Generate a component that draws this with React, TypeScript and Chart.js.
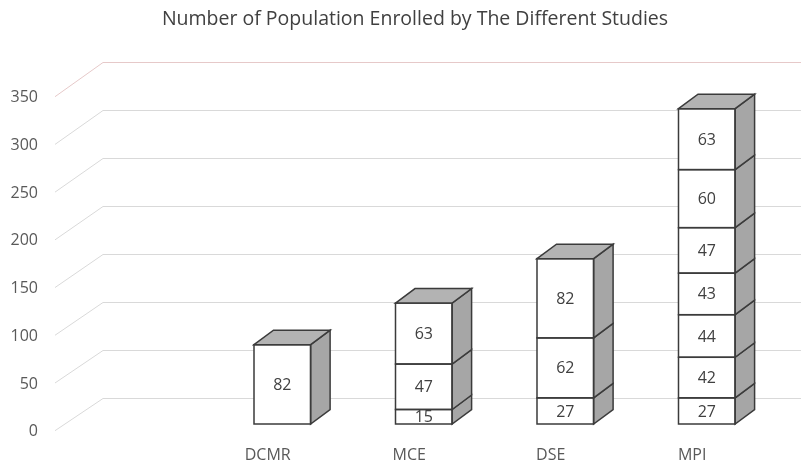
import { useEffect, useRef } from "react";
import { Chart, registerables } from "chart.js";

Chart.register(...registerables);

const categories = ["DCMR", "MCE", "DSE", "MPI"];

// Enrolled population per study, one array per stacked block (bottom to top)
const block1 = [82, 15, 27, 27];
const block2 = [null, 47, 62, 42];
const block3 = [null, 63, 82, 44];
const block4 = [null, null, null, 43];
const block5 = [null, null, null, 47];
const block6 = [null, null, null, 60];
const block7 = [null, null, null, 63];
const blocks = [block1, block2, block3, block4, block5, block6, block7];

const yMin = 0;
const yMax = 350;
const yStep = 50;

const titleText = "Number of Population Enrolled by The Different Studies";

// projection of the 3D box: depth of each column and of the floor/back wall
const BOX_DX = 19.5;
const BOX_DY = 14.5;
const WALL_DX = 48;

const FONT = "'Open Sans', 'Noto Sans', sans-serif";
const EDGE = "#3b3b3b";
const SIDE = "#a6a6a6";
const TOP = "#b3b3b3";
const GRID = "#d9d9d9";
const GRID_TOP = "#e6c9c9";

const box3d = {
  id: "box3d",
  beforeDatasetsDraw(chart: any) {
    const { ctx, chartArea, scales } = chart;
    const front = scales.y;
    const wall = scales.yWall;
    ctx.save();
    ctx.lineWidth = 1;
    front.ticks.forEach((t: any, i: number, arr: any[]) => {
      const y0 = front.getPixelForValue(t.value) - 1;
      const y1 = Math.round(wall.getPixelForValue(t.value)) + 0.5;
      ctx.strokeStyle = i === arr.length - 1 ? GRID_TOP : GRID;
      ctx.beginPath();
      ctx.moveTo(chartArea.left, y0);
      ctx.lineTo(chartArea.left + WALL_DX, y1);
      ctx.lineTo(chart.width, y1);
      ctx.stroke();
    });
    ctx.restore();
  },
  afterDatasetsDraw(chart: any) {
    const { ctx } = chart;
    const metas = chart.getSortedVisibleDatasetMetas();
    const columns: any[][] = categories.map(() => []);
    metas.forEach((meta: any) => {
      const ds = chart.data.datasets[meta.index];
      meta.data.forEach((el: any, j: number) => {
        const point = ds.data[j];
        const p = el.getProps(["x", "y", "base", "width"], true);
        columns[point.x].push({ ...p, value: point.y });
      });
    });

    ctx.save();
    ctx.lineWidth = 1.5;
    ctx.strokeStyle = EDGE;
    ctx.lineJoin = "miter";
    columns.forEach((col) => {
      if (!col.length) return;
      // side faces
      col.forEach((b) => {
        const right = b.x + b.width / 2;
        ctx.beginPath();
        ctx.moveTo(right, b.y);
        ctx.lineTo(right + BOX_DX, b.y - BOX_DY);
        ctx.lineTo(right + BOX_DX, b.base - BOX_DY);
        ctx.lineTo(right, b.base);
        ctx.closePath();
        ctx.fillStyle = SIDE;
        ctx.fill();
        ctx.stroke();
      });
      // front faces
      col.forEach((b) => {
        const left = b.x - b.width / 2;
        ctx.strokeRect(left, b.y, b.width, b.base - b.y);
      });
      // top face of the column
      const top = col.reduce((a, b) => (b.y < a.y ? b : a));
      const l = top.x - top.width / 2;
      const r = top.x + top.width / 2;
      ctx.beginPath();
      ctx.moveTo(l, top.y);
      ctx.lineTo(l + BOX_DX, top.y - BOX_DY);
      ctx.lineTo(r + BOX_DX, top.y - BOX_DY);
      ctx.lineTo(r, top.y);
      ctx.closePath();
      ctx.fillStyle = TOP;
      ctx.fill();
      ctx.stroke();
    });

    // value labels
    ctx.fillStyle = "#404040";
    ctx.font = `16px ${FONT}`;
    ctx.textAlign = "center";
    ctx.textBaseline = "middle";
    columns.forEach((col) => {
      col.forEach((b) => {
        ctx.fillText(String(b.value), b.x, (b.y + b.base) / 2 + 1);
      });
    });
    ctx.restore();
  },
};

const integerTicks = (scale: any) => {
  scale.ticks = categories.map((_, i) => ({ value: i }));
};

export default function App() {
  const canvasRef = useRef<HTMLCanvasElement>(null);

  useEffect(() => {
    if (!canvasRef.current) return;
    const datasets = blocks.map((values, k) => ({
      label: `Block ${k + 1}`,
      data: values.flatMap((v, i) => (v == null ? [] : [{ x: i, y: v }])),
      xAxisID: "xBar",
      yAxisID: "yBar",
      backgroundColor: "#ffffff",
      borderWidth: 0,
      categoryPercentage: 0.4,
      barPercentage: 1,
    }));

    const chart = new Chart(canvasRef.current, {
      type: "bar",
      data: { datasets },
      plugins: [box3d],
      options: {
        animation: false,
        responsive: false,
        devicePixelRatio: 1,
        layout: { padding: { left: 0, right: 26, top: 0, bottom: 0 } },
        plugins: {
          legend: { display: false },
          tooltip: { enabled: false },
          title: {
            display: true,
            fullSize: false,
            text: titleText,
            color: "#404040",
            font: { family: FONT, size: 19.5, weight: "normal" },
            padding: { top: 8, bottom: 66.3 },
          },
        },
        scales: {
          x: {
            type: "linear",
            axis: "x",
            position: "bottom",
            offset: false,
            min: -1.5032,
            max: 3.5852,
            grid: { display: false, drawTicks: false },
            border: { display: false },
            afterBuildTicks: integerTicks,
            afterFit: (s: any) => {
              s.height = 28.3;
            },
            ticks: {
              color: "#595959",
              font: { family: FONT, size: 16 },
              padding: 14,
              maxRotation: 0,
              autoSkip: false,
              callback: (v: any) => categories[v as number] ?? "",
            },
          },
          xBar: {
            type: "linear",
            axis: "x",
            display: false,
            offset: false,
            stacked: true,
            min: -1.6064,
            max: 3.482,
            afterBuildTicks: integerTicks,
          },
          y: {
            type: "linear",
            axis: "y",
            position: "left",
            min: yMin,
            max: yMax,
            grid: { display: false, drawTicks: false },
            border: { display: false },
            afterFit: (s: any) => {
              s.width = 55;
            },
            ticks: {
              stepSize: yStep,
              color: "#595959",
              font: { family: FONT, size: 16 },
              padding: 17,
            },
          },
          yBar: {
            type: "linear",
            axis: "y",
            display: false,
            stacked: true,
            min: -7.96,
            max: 337.4,
          },
          yWall: {
            type: "linear",
            axis: "y",
            display: false,
            min: -35.07,
            max: 312.5,
          },
        },
      } as any,
    });
    return () => chart.destroy();
  }, []);

  return (
    <div style={{ position: "fixed", left: 0, top: 0, width: 801, height: 460, background: "#ffffff" }}>
      <canvas ref={canvasRef} width={801} height={460} />
    </div>
  );
}
